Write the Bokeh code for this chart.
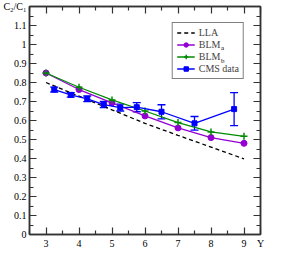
from bokeh.plotting import figure
from bokeh.models import (Range1d, FixedTicker, LinearAxis, Legend, LegendItem,
                          Whisker, TeeHead, ColumnDataSource, Label)
from bokeh.embed import file_html
from bokeh.resources import INLINE

# ---- data ----
rap = [3, 4, 5, 6, 7, 8, 9]
lla = [0.800, 0.728, 0.656, 0.585, 0.522, 0.460, 0.398]
blm_a = [0.850, 0.763, 0.693, 0.624, 0.561, 0.510, 0.480]
blm_b = [0.850, 0.775, 0.708, 0.650, 0.589, 0.540, 0.517]
cms_rap = [3.25, 3.75, 4.25, 4.75, 5.25, 5.75, 6.5, 7.5, 8.7]
cms_val = [0.763, 0.735, 0.714, 0.684, 0.668, 0.670, 0.646, 0.585, 0.660]
cms_err = [0.013, 0.012, 0.015, 0.016, 0.018, 0.024, 0.037, 0.036, 0.087]

x_ticks = [3, 4, 5, 6, 7, 8, 9, 9.5]
x_labels = ["3", "4", "5", "6", "7", "8", "9", "Y"]
x_minor = [2.5, 3.5, 4.5, 5.5, 6.5, 7.5, 8.5]
y_ticks = [0, 0.1, 0.2, 0.3, 0.4, 0.5, 0.6, 0.7, 0.8, 0.9, 1, 1.1, 1.2]
y_labels = ["0", "0.1", "0.2", "0.3", "0.4", "0.5", "0.6", "0.7", "0.8", "0.9", "1", "1.1", "C\u2082/C\u2081"]
y_minor = [0.05, 0.15, 0.25, 0.35, 0.45, 0.55, 0.65, 0.75, 0.85, 0.95, 1.05, 1.15]

FONT = "Liberation Serif"
FS = "10px"
FRAME = "#333333"
BLUE = "#0000ff"
VIOLET = "#9400d3"
GREEN = "#008b00"

p = figure(width=265, height=251, output_backend="svg", toolbar_location=None,
           x_range=Range1d(2.5, 9.5), y_range=Range1d(0, 1.2),
           x_axis_type=None, y_axis_type=None,
           min_border_top=6, min_border_right=5, min_border_left=0, min_border_bottom=0)
p.grid.visible = False
p.outline_line_color = FRAME
p.outline_line_width = 1.5
p.background_fill_color = "white"
p.border_fill_color = "white"


def style(ax, labels=True):
    ax.axis_line_color = FRAME
    ax.axis_line_width = 1.5
    ax.major_tick_line_color = FRAME
    ax.minor_tick_line_color = FRAME
    ax.major_tick_line_width = 1.2
    ax.minor_tick_line_width = 1.2
    ax.major_tick_in = 7
    ax.major_tick_out = 0
    ax.minor_tick_in = 4
    ax.minor_tick_out = 0
    ax.major_label_text_font = FONT
    ax.major_label_text_font_size = FS
    ax.major_label_text_color = "black" if labels else None
    ax.major_label_standoff = 3 if labels else 0


xt = FixedTicker(ticks=x_ticks, minor_ticks=x_minor)
yt = FixedTicker(ticks=y_ticks, minor_ticks=y_minor)

xb = LinearAxis(ticker=xt, major_label_overrides=dict(zip(x_ticks, x_labels)))
yl = LinearAxis(ticker=yt, major_label_overrides=dict(zip(y_ticks, y_labels)))
xa = LinearAxis(ticker=xt)
yr = LinearAxis(ticker=yt)
style(xb)
style(yl)
style(xa, False)
style(yr, False)
p.add_layout(xb, "below")
p.add_layout(yl, "left")
p.add_layout(xa, "above")
p.add_layout(yr, "right")

# ---- series ----
r_lla = p.line(rap, lla, line_color="black", line_dash="4 3", line_width=1.3)

r_a_line = p.line(rap, blm_a, line_color=VIOLET, line_width=1.3)
r_a_pts = p.scatter(rap, blm_a, marker="circle", size=6, fill_color=VIOLET, line_color=VIOLET)

r_b_line = p.line(rap, blm_b, line_color=GREEN, line_width=1.3)
r_b_pts = p.scatter(rap, blm_b, marker="cross", size=7, line_color=GREEN, line_width=1.5)

src = ColumnDataSource(data=dict(
    x=cms_rap, y=cms_val,
    lo=[v - e for v, e in zip(cms_val, cms_err)],
    hi=[v + e for v, e in zip(cms_val, cms_err)],
))
r_c_line = p.line("x", "y", source=src, line_color=BLUE, line_width=1.3)
p.add_layout(Whisker(source=src, base="x", lower="lo", upper="hi", dimension="height",
                     line_color=BLUE, line_width=1.3,
                     upper_head=TeeHead(size=8, line_color=BLUE, line_width=1.3),
                     lower_head=TeeHead(size=8, line_color=BLUE, line_width=1.3)))
r_c_pts = p.scatter("x", "y", source=src, marker="square", size=5, fill_color=BLUE, line_color=BLUE)

legend = Legend(items=[
    LegendItem(label="LLA", renderers=[r_lla]),
    LegendItem(label="BLM", renderers=[r_a_line, r_a_pts]),
    LegendItem(label="BLM", renderers=[r_b_line, r_b_pts]),
    LegendItem(label="CMS data", renderers=[r_c_line, r_c_pts]),
], location="top_right")
legend.margin = 16
legend.padding = 4
legend.spacing = 1
legend.label_height = 11
legend.glyph_height = 11
legend.glyph_width = 18
legend.label_standoff = 4
legend.label_text_font = FONT
legend.label_text_font_size = FS
legend.label_text_baseline = "middle"
legend.border_line_color = "black"
legend.border_line_width = 1
legend.background_fill_alpha = 0
p.add_layout(legend, "center")

for sub, dy in (("a", -41.7), ("b", -54.0)):
    p.add_layout(Label(x=9.5, y=1.2, x_offset=-39.5, y_offset=dy, text=sub,
                       text_font=FONT, text_font_size="7px", text_baseline="middle",
                       text_align="left", text_color="black", level="overlay"))

open("out.html", "w").write(file_html(p, INLINE))
